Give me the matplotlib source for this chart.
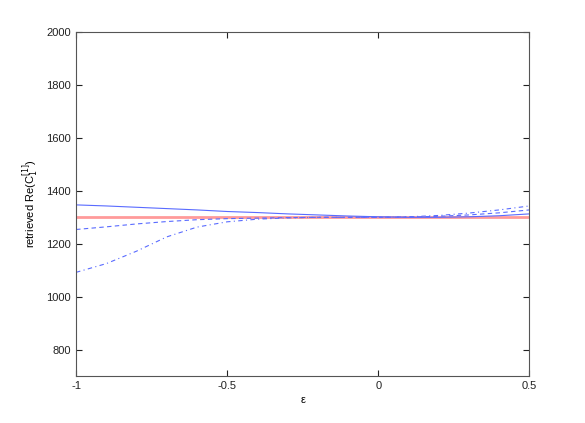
import numpy as np
import matplotlib
matplotlib.use("Agg")
import matplotlib.pyplot as plt

plt.rcParams['font.family'] = ['Liberation Sans', 'DejaVu Sans']

eps = [-1.0, -0.9, -0.8, -0.7, -0.6, -0.5, -0.4, -0.3, -0.2, -0.1,
       0.0, 0.1, 0.2, 0.3, 0.4, 0.5]
solid = [1347, 1343, 1338, 1333, 1328, 1322, 1318, 1313, 1309, 1305,
         1302, 1300, 1300, 1302, 1306, 1313]
dashed = [1254, 1264, 1275, 1284, 1291, 1295, 1297, 1299, 1300, 1300,
          1300, 1301, 1304, 1309, 1317, 1328]
dashdot = [1092, 1125, 1172, 1226, 1263, 1283, 1293, 1298, 1300, 1300,
           1300, 1302, 1307, 1316, 1328, 1343]
true_value = 1300

blue = (0.35, 0.42, 1.0)

fig = plt.figure(figsize=(5.85, 4.23), dpi=100)
ax = fig.add_axes([0.13, 0.111, 0.775, 0.813])

ax.plot([-1, 0.5], [true_value, true_value], color='#ff9a9a', lw=2)
ax.plot(eps, solid, '-', color=blue, lw=0.8)
ax.plot(eps, dashed, '--', color=blue, lw=0.8, dashes=(4, 3))
ax.plot(eps, dashdot, '-.', color=blue, lw=0.8, dashes=(4, 3, 1, 3))

ax.set_xlim(-1, 0.5)
ax.set_ylim(700, 2000)
ax.set_xticks([-1, -0.5, 0, 0.5])
ax.set_xticklabels(['-1', '-0.5', '0', '0.5'])
ax.set_yticks(np.arange(800, 2001, 200))

ax.tick_params(direction='in', top=True, right=True, length=4,
               labelsize=8, colors='#222222')
for s in ax.spines.values():
    s.set_color('#555555')
    s.set_linewidth(0.8)

ax.set_xlabel('\u03b5', fontsize=8, labelpad=3)
ax.set_ylabel('retrieved Re(C$^{[1]}_{1}$)', fontsize=8, labelpad=4)

fig.savefig('out.png', dpi=100)
